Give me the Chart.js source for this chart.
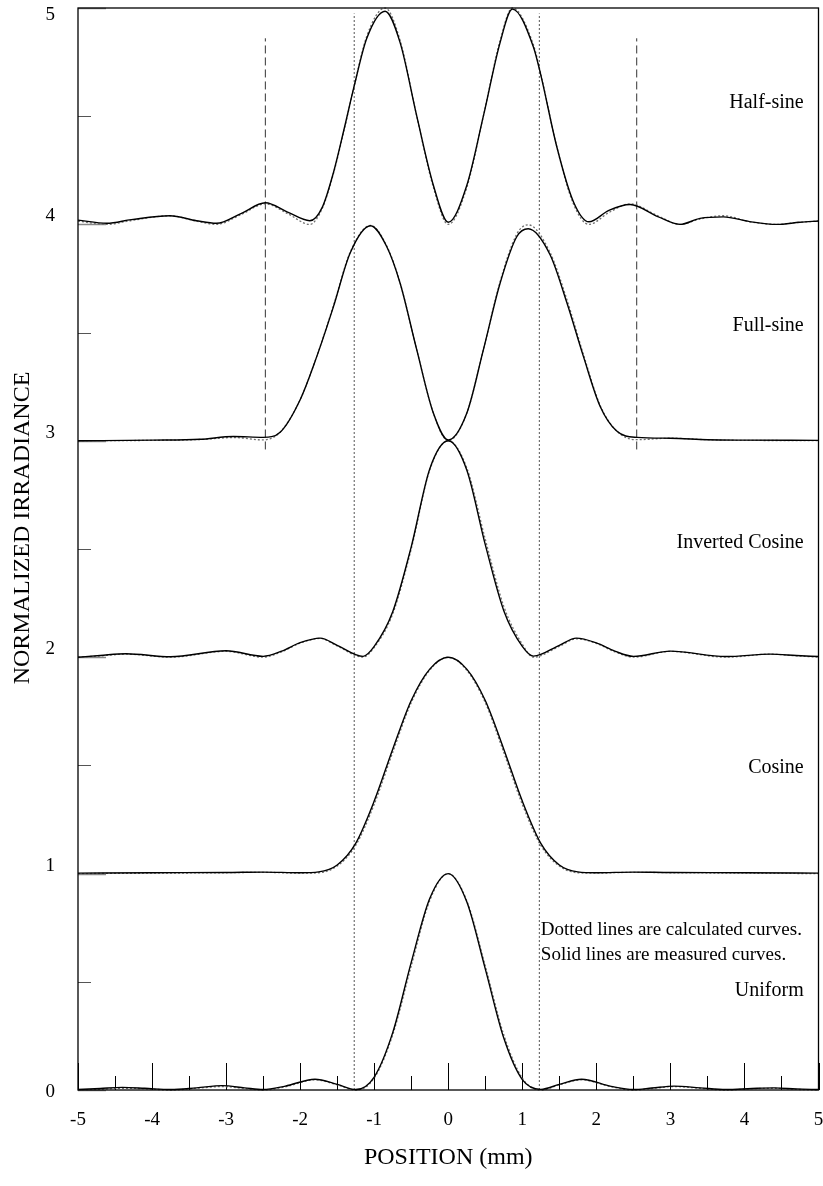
<!DOCTYPE html>
<html>
<head>
<meta charset="utf-8">
<title>Normalized irradiance profiles</title>
<script src="https://cdn.jsdelivr.net/npm/chart.js@4.4.1/dist/chart.umd.min.js"></script>
<style>
  html, body { margin: 0; padding: 0; background: #fff; }
  canvas { display: block; }
</style>
</head>
<body>
<canvas id="irradianceChart" width="823" height="1186"></canvas>
<script>
// profiles, stacked one unit apart (values are as plotted)
const uniformX = [-5, -4.7, -4.4, -4.1, -3.75, -3.4, -3.05, -2.75, -2.5, -2.2, -1.8, -1.5, -1.25, -1, -0.75, -0.5, -0.25, 0, 0.25, 0.5, 0.75, 1, 1.25, 1.5, 1.8, 2.2, 2.5, 2.75, 3.05, 3.4, 3.75, 4.1, 4.4, 4.7, 5];
const uniformMeasured = [0.002, 0.007, 0.012, 0.008, 0.002, 0.01, 0.02, 0.01, 0.002, 0.018, 0.05, 0.026, 0.002, 0.06, 0.265, 0.59, 0.885, 1.0, 0.87, 0.56, 0.24, 0.048, 0.003, 0.026, 0.05, 0.017, 0.002, 0.009, 0.018, 0.01, 0.002, 0.007, 0.01, 0.005, 0.002];
const uniformCalculated = [0, 0.003, 0.008, 0.006, 0, 0.008, 0.016, 0.007, 0, 0.015, 0.047, 0.024, 0, 0.055, 0.255, 0.573, 0.875, 1.0, 0.875, 0.573, 0.255, 0.055, 0, 0.024, 0.047, 0.015, 0, 0.007, 0.016, 0.008, 0, 0.006, 0.008, 0.003, 0];

const cosineX = [-5, -4, -3, -2.5, -2, -1.75, -1.5, -1.25, -1, -0.75, -0.5, -0.25, 0, 0.25, 0.5, 0.75, 1, 1.25, 1.5, 1.75, 2, 2.5, 3, 4, 5];
const cosineMeasured = [1.002, 1.004, 1.005, 1.007, 1.004, 1.008, 1.04, 1.14, 1.335, 1.575, 1.8, 1.945, 2.0, 1.945, 1.8, 1.575, 1.335, 1.14, 1.04, 1.008, 1.004, 1.007, 1.005, 1.004, 1.002];
const cosineCalculated = [1.0, 1.002, 1.004, 1.006, 1.002, 1.004, 1.035, 1.13, 1.32, 1.56, 1.79, 1.94, 2.0, 1.94, 1.79, 1.56, 1.32, 1.13, 1.035, 1.004, 1.002, 1.006, 1.004, 1.002, 1.0];

const invCosineX = [-5, -4.7, -4.35, -3.75, -3, -2.5, -2.25, -2, -1.73, -1.5, -1.15, -1, -0.75, -0.5, -0.25, 0, 0.25, 0.5, 0.75, 1, 1.15, 1.5, 1.73, 2, 2.25, 2.5, 3, 3.75, 4.35, 4.7, 5];
const invCosineMeasured = [2.0, 2.008, 2.016, 2.002, 2.03, 2.004, 2.028, 2.067, 2.088, 2.055, 2.004, 2.05, 2.21, 2.51, 2.87, 3.0, 2.865, 2.52, 2.215, 2.05, 2.005, 2.055, 2.088, 2.066, 2.028, 2.004, 2.028, 2.003, 2.014, 2.008, 2.003];
const invCosineCalculated = [2.0, 2.006, 2.014, 2.0, 2.027, 2.0, 2.025, 2.065, 2.087, 2.052, 2.0, 2.045, 2.2, 2.5, 2.865, 3.0, 2.875, 2.545, 2.235, 2.06, 2.0, 2.05, 2.085, 2.064, 2.025, 2.0, 2.027, 2.0, 2.014, 2.006, 2.0];

const fullSineX = [-5, -4, -3.35, -2.9, -2.5, -2.27, -2, -1.776, -1.55, -1.326, -1.05, -0.83, -0.65, -0.425, -0.2, 0, 0.25, 0.474, 0.7, 0.925, 1.08, 1.375, 1.6, 1.825, 2.05, 2.275, 2.55, 3, 3.5, 4, 5];
const fullSineMeasured = [3.0, 3.003, 3.007, 3.02, 3.016, 3.04, 3.19, 3.389, 3.62, 3.867, 3.994, 3.897, 3.728, 3.42, 3.127, 3.004, 3.127, 3.42, 3.728, 3.943, 3.98, 3.86, 3.64, 3.39, 3.16, 3.045, 3.016, 3.012, 3.005, 3.003, 3.002];
const fullSineCalculated = [3.0, 3.002, 3.006, 3.015, 3.004, 3.04, 3.19, 3.39, 3.625, 3.87, 3.995, 3.9, 3.73, 3.42, 3.127, 3.0, 3.127, 3.42, 3.735, 3.955, 3.998, 3.87, 3.655, 3.4, 3.165, 3.045, 3.005, 3.012, 3.005, 3.002, 3.001];

const halfSineX = [-5, -4.61, -4.28, -3.76, -3.4, -3.13, -2.8, -2.47, -2.17, -1.87, -1.7, -1.55, -1.4, -1.27, -1.1, -0.853, -0.65, -0.425, -0.2, 0, 0.25, 0.474, 0.7, 0.866, 1.15, 1.25, 1.465, 1.69, 1.9, 2.17, 2.455, 2.83, 3.13, 3.4, 3.715, 4.07, 4.436, 4.75, 5];
const halfSineMeasured = [4.02, 4.005, 4.022, 4.04, 4.017, 4.005, 4.05, 4.1, 4.057, 4.017, 4.08, 4.24, 4.45, 4.64, 4.86, 4.985, 4.84, 4.5, 4.18, 4.01, 4.18, 4.5, 4.84, 4.995, 4.82, 4.69, 4.36, 4.105, 4.012, 4.065, 4.092, 4.036, 4.0, 4.028, 4.035, 4.013, 4.0, 4.01, 4.016];
const halfSineCalculated = [4.015, 4.0, 4.018, 4.04, 4.015, 4.0, 4.045, 4.095, 4.05, 4.0, 4.075, 4.235, 4.445, 4.64, 4.87, 5.0, 4.85, 4.5, 4.17, 4.0, 4.17, 4.5, 4.85, 5.0, 4.83, 4.695, 4.36, 4.095, 4.0, 4.055, 4.095, 4.04, 4.0, 4.025, 4.04, 4.012, 4.0, 4.01, 4.015];

// vertical guide lines: [x, yFrom, yTo]
const dottedGuides = [[-1.27, 0, 4.975], [1.23, 0, 4.975]];
const dashedGuides = [[-2.47, 2.96, 4.86], [2.545, 2.96, 4.86]];

// axes
const xMajorTicks = [-5, -4, -3, -2, -1, 0, 1, 2, 3, 4, 5];
const xMinorTicks = [-4.5, -3.5, -2.5, -1.5, -0.5, 0.5, 1.5, 2.5, 3.5, 4.5];
const xTickLabels = ["-5", "-4", "-3", "-2", "-1", "0", "1", "2", "3", "4", "5"];
const yMajorTicks = [0, 1, 2, 3, 4, 5];
const yMinorTicks = [0.5, 1.5, 2.5, 3.5, 4.5];
const yTickLabels = ["0", "1", "2", "3", "4", "5"];

const curveNames = ["Half-sine", "Full-sine", "Inverted Cosine", "Cosine", "Uniform"];
const curveNameY = [4.56, 3.53, 2.53, 1.49, 0.46];
const notes = ["Dotted lines are calculated curves.", "Solid lines are measured curves."];
const notesY = [0.74, 0.625];

const SERIF = "'Liberation Serif', 'Times New Roman', Times, serif";

function pts(xs, ys) {
  return xs.map((x, i) => ({ x: x, y: ys[i] }));
}

function measured(xs, ys) {
  return {
    data: pts(xs, ys),
    borderColor: "#000",
    borderWidth: 1.4,
    pointRadius: 0,
    cubicInterpolationMode: "monotone",
    clip: false,
    order: 0,
  };
}

function calculated(xs, ys) {
  return {
    data: pts(xs, ys),
    borderColor: "#707070",
    borderWidth: 1.3,
    borderDash: [2, 2],
    pointRadius: 0,
    cubicInterpolationMode: "monotone",
    clip: false,
    order: 1,
  };
}

function guide(g, dash, color) {
  return {
    data: [{ x: g[0], y: g[1] }, { x: g[0], y: g[2] }],
    borderColor: color,
    borderWidth: 1,
    borderDash: dash,
    pointRadius: 0,
    order: 2,
  };
}

const datasets = [
  measured(uniformX, uniformMeasured),
  measured(cosineX, cosineMeasured),
  measured(invCosineX, invCosineMeasured),
  measured(fullSineX, fullSineMeasured),
  measured(halfSineX, halfSineMeasured),
  calculated(uniformX, uniformCalculated),
  calculated(cosineX, cosineCalculated),
  calculated(invCosineX, invCosineCalculated),
  calculated(fullSineX, fullSineCalculated),
  calculated(halfSineX, halfSineCalculated),
];
dottedGuides.forEach((g) => datasets.push(guide(g, [2, 2], "#555")));
dashedGuides.forEach((g) => datasets.push(guide(g, [8, 4], "#333")));

// frame, ticks and all text are drawn with the chart's own scales
const framePlugin = {
  id: "frame",
  beforeDatasetsDraw(chart) {
    const ctx = chart.ctx;
    const a = chart.chartArea;
    const xs = chart.scales.x;
    const ys = chart.scales.y;
    ctx.save();
    // y ticks (inward, grey)
    ctx.strokeStyle = "#888";
    ctx.lineWidth = 1.5;
    yMajorTicks.forEach((v) => {
      const y = Math.round(ys.getPixelForValue(v)) + 0.5;
      ctx.beginPath();
      ctx.moveTo(a.left, y);
      ctx.lineTo(a.left + 28, y);
      ctx.stroke();
    });
    ctx.strokeStyle = "#555";
    ctx.lineWidth = 1;
    yMinorTicks.forEach((v) => {
      const y = Math.round(ys.getPixelForValue(v)) + 0.5;
      ctx.beginPath();
      ctx.moveTo(a.left, y);
      ctx.lineTo(a.left + 13, y);
      ctx.stroke();
    });
    // x ticks (upward, black)
    ctx.strokeStyle = "#000";
    xMajorTicks.forEach((v) => {
      const x = Math.round(xs.getPixelForValue(v)) + 0.5;
      ctx.beginPath();
      ctx.moveTo(x, a.bottom);
      ctx.lineTo(x, a.bottom - 27);
      ctx.stroke();
    });
    xMinorTicks.forEach((v) => {
      const x = Math.round(xs.getPixelForValue(v)) + 0.5;
      ctx.beginPath();
      ctx.moveTo(x, a.bottom);
      ctx.lineTo(x, a.bottom - 14);
      ctx.stroke();
    });
    ctx.restore();
  },
  afterDatasetsDraw(chart) {
    const ctx = chart.ctx;
    const a = chart.chartArea;
    const xs = chart.scales.x;
    const ys = chart.scales.y;
    ctx.save();
    ctx.strokeStyle = "#000";
    ctx.lineWidth = 1.3;
    ctx.strokeRect(a.left, a.top, a.right - a.left, a.bottom - a.top);

    ctx.fillStyle = "#000";
    ctx.font = "19px " + SERIF;
    // tick labels
    ctx.textAlign = "center";
    ctx.textBaseline = "alphabetic";
    xMajorTicks.forEach((v, i) => {
      ctx.fillText(xTickLabels[i], xs.getPixelForValue(v), a.bottom + 35);
    });
    ctx.textAlign = "right";
    yMajorTicks.forEach((v, i) => {
      let y = ys.getPixelForValue(v) - 3;
      if (v === 0) y = ys.getPixelForValue(v) + 7;
      if (v === 5) y = ys.getPixelForValue(v) + 12;
      ctx.fillText(yTickLabels[i], 55, y);
    });

    // curve names and notes
    ctx.textBaseline = "middle";
    ctx.font = "20px " + SERIF;
    ctx.textAlign = "right";
    curveNames.forEach((name, i) => {
      ctx.fillText(name, xs.getPixelForValue(4.8), ys.getPixelForValue(curveNameY[i]));
    });
    ctx.font = "19px " + SERIF;
    ctx.textAlign = "left";
    notes.forEach((t, i) => {
      ctx.fillText(t, xs.getPixelForValue(1.25), ys.getPixelForValue(notesY[i]));
    });

    // axis titles
    ctx.font = "24px " + SERIF;
    ctx.textAlign = "center";
    ctx.fillText("POSITION (mm)", (a.left + a.right) / 2, 1158);
    ctx.translate(23, 528);
    ctx.rotate(-Math.PI / 2);
    ctx.fillText("NORMALIZED IRRADIANCE", 0, 0);
    ctx.restore();
  },
};

new Chart(document.getElementById("irradianceChart"), {
  type: "line",
  data: { datasets: datasets },
  options: {
    responsive: false,
    animation: false,
    devicePixelRatio: 1,
    layout: { padding: { left: 78, right: 4.5, top: 8, bottom: 96 } },
    plugins: { legend: { display: false }, tooltip: { enabled: false } },
    scales: {
      x: { type: "linear", min: -5, max: 5, display: false },
      y: { type: "linear", min: 0, max: 5, display: false },
    },
  },
  plugins: [framePlugin],
});
</script>
</body>
</html>
